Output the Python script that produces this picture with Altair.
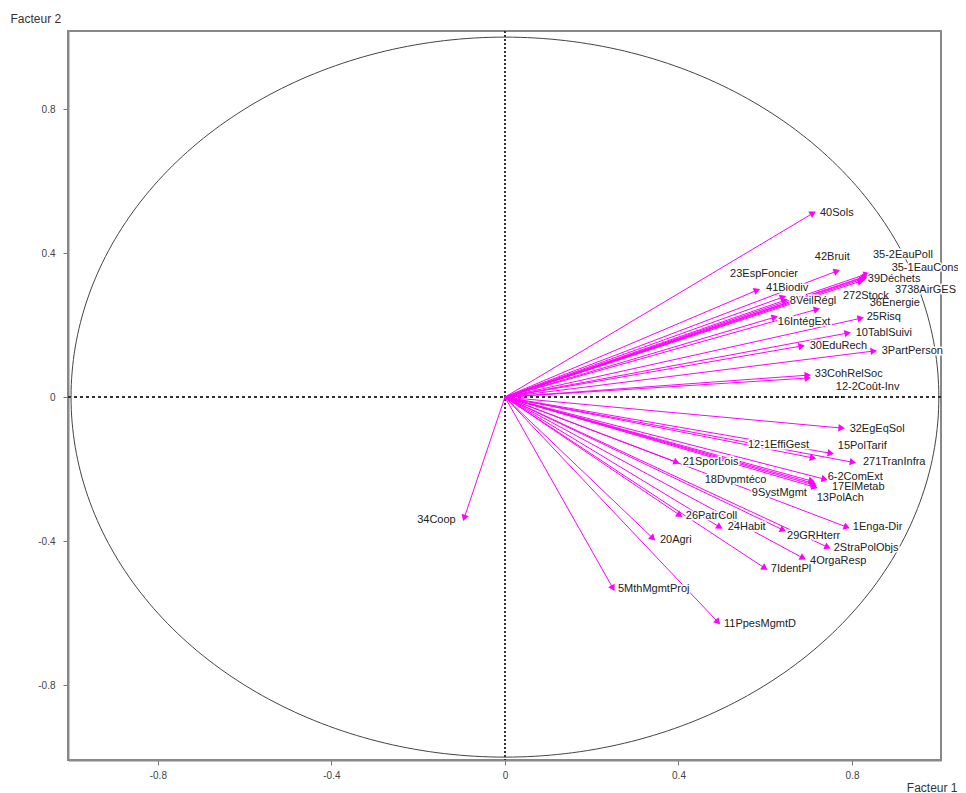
import math
import numpy as np
import pandas as pd
import altair as alt

# ---- data: variable coordinates on factor 1 / factor 2 ----
labels = ["40Sols", "42Bruit", "35-2EauPoll", "35-1EauCons", "39Déchets", "3738AirGES",
          "36Energie", "23EspFoncier", "41Biodiv", "8VeilRégl", "272Stock", "25Risq",
          "16IntégExt", "10TablSuivi", "30EduRech", "3PartPerson", "33CohRelSoc",
          "12-2Coût-Inv", "32EgEqSol", "12-1EffiGest", "15PolTarif", "271TranInfra",
          "21SporLois", "18Dvpmtéco", "6-2ComExt", "17ElMetab", "9SystMgmt", "13PolAch",
          "1Enga-Dir", "26PatrColl", "24Habit", "29GRHterr", "2StraPolObjs", "20Agri",
          "4OrgaResp", "7IdentPl", "5MthMgmtProj", "11PpesMgmtD", "34Coop"]
fact1 = [0.710, 0.765, 0.832, 0.829, 0.834, 0.825,
         0.820, 0.641, 0.581, 0.645, 0.719, 0.820,
         0.622, 0.790, 0.684, 0.850, 0.698,
         0.698, 0.776, 0.710, 0.751, 0.802,
         0.396, 0.707, 0.737, 0.710, 0.712, 0.714,
         0.788, 0.403, 0.495, 0.641, 0.744, 0.341,
         0.687, 0.599, 0.249, 0.491, -0.094]
fact2 = [0.511, 0.350, 0.336, 0.333, 0.342, 0.328,
         0.322, 0.278, 0.297, 0.269, 0.244, 0.219,
         0.222, 0.178, 0.142, 0.128, 0.061,
         0.053, -0.086, -0.169, -0.156, -0.181,
         -0.181, -0.233, -0.228, -0.239, -0.244, -0.250,
         -0.361, -0.328, -0.361, -0.369, -0.417, -0.392,
         -0.447, -0.475, -0.531, -0.625, -0.336]

# ---- label placement nudges (pixels, layout only) ----
nudge_x = [7, -22, 7, 27, 1, 32,
           9, -53, 9, 5, 26, 6,
           3, 8, 8, 8, 7,
           28, 8, -65, 7, 10,
           6, -107, 3, 19, -62, 2,
           6, 6, 8, 4, 6, 7,
           7, 6, 5, 6, -47]
nudge_y = [0, -14, -21, -9, 5, 11,
           22, -23, -2, 1, -13, -1,
           5, 0, 0, 0, -1,
           9, 1, -13, -7, 0,
           0, -1, -2, 4, 8, 11,
           0, 1, 0, 6, 1, 2,
           3, 1, 1, 2, 2]

xticks = [-0.8, -0.4, 0, 0.4, 0.8]
yticks = [-0.8, -0.4, 0, 0.4, 0.8]

# ---- layout ----
W, H = 873, 729
XD = [-1.007, 1.005]
YD = [-1.008, 1.017]
sx = W / (XD[1] - XD[0])
sy = H / (YD[1] - YD[0])

df = pd.DataFrame({"label": labels, "f1": fact1, "f2": fact2,
                   "nx": nudge_x, "ny": nudge_y})
df["x0"] = 0.0
df["y0"] = 0.0
df["ang"] = [(math.degrees(math.atan2(a * sx, b * sy)) + 360) % 360 for a, b in zip(fact1, fact2)]

theta = np.linspace(0, 2 * np.pi, 361)
circle = pd.DataFrame({"cx": np.cos(theta), "cy": np.sin(theta), "o": np.arange(361)})

xs = alt.Scale(domain=XD, nice=False, zero=False)
ys = alt.Scale(domain=YD, nice=False, zero=False)

xaxis = alt.Axis(values=xticks, grid=False, title="Facteur 1", titleAlign="right",
                 titleX=889, titleY=27, titleBaseline="middle", titleFontWeight="normal",
                 titleFontSize=12, titleColor="#333", labelFontSize=10, labelColor="#444",
                 labelExpr="'' + datum.value", tickSize=5, labelPadding=5,
                 tickColor="#777", domainColor="#888", domainWidth=2)
yaxis = alt.Axis(values=yticks, grid=False, title="Facteur 2", titleAngle=0,
                 titleAlign="left", titleBaseline="middle", titleX=-58, titleY=-13,
                 titleFontWeight="normal", titleFontSize=12, titleColor="#333",
                 labelFontSize=10, labelColor="#444", labelExpr="'' + datum.value",
                 tickSize=5, labelPadding=8, tickColor="#777", domainColor="#888",
                 domainWidth=2)

circ = alt.Chart(circle).mark_line(color="#444", strokeWidth=1).encode(
    x=alt.X("cx:Q", scale=xs, axis=xaxis),
    y=alt.Y("cy:Q", scale=ys, axis=yaxis),
    order="o:Q",
)

vline = alt.Chart(circle).mark_rule(color="#333", strokeDash=[2, 2], strokeWidth=1).encode(
    x=alt.datum(0))
hline = alt.Chart(circle).mark_rule(color="#333", strokeDash=[3, 3], strokeWidth=1).encode(
    y=alt.datum(0))

arrows = alt.Chart(df).mark_rule(color="#FF00FF", strokeWidth=1).encode(
    x="x0:Q", x2="f1:Q", y="y0:Q", y2="f2:Q")

heads = alt.Chart(df).mark_point(shape="triangle-up", filled=True, size=55,
                                 color="#FF00FF", opacity=1, strokeWidth=0).encode(
    x="f1:Q", y="f2:Q", angle=alt.Angle("ang:Q", scale=None))

lab_base = alt.Chart(df).transform_calculate(
    lx=f"datum.f1 + datum.nx / {sx}",
    ly=f"datum.f2 - datum.ny / {sy}",
)

halo = lab_base.mark_text(align="left", baseline="middle", fontSize=11,
                          font="Liberation Sans", color="white", stroke="white",
                          strokeWidth=3).encode(
    x="lx:Q", y="ly:Q", text="label:N")

text = lab_base.mark_text(align="left", baseline="middle", fontSize=11,
                          font="Liberation Sans", color="#222").encode(
    x="lx:Q", y="ly:Q", text="label:N")

chart = alt.layer(circ, vline, hline, arrows, heads, halo, text).properties(
    width=W, height=H,
    autosize=alt.AutoSizeParams(type="none"),
    padding={"left": 60, "top": 23, "right": 17, "bottom": 33},
    background="white",
).configure_view(stroke="#888", strokeWidth=2).configure_axis(
    labelFont="Liberation Sans", titleFont="Liberation Sans")

chart.save("out.html", embed_options={"renderer": "svg", "actions": False})
